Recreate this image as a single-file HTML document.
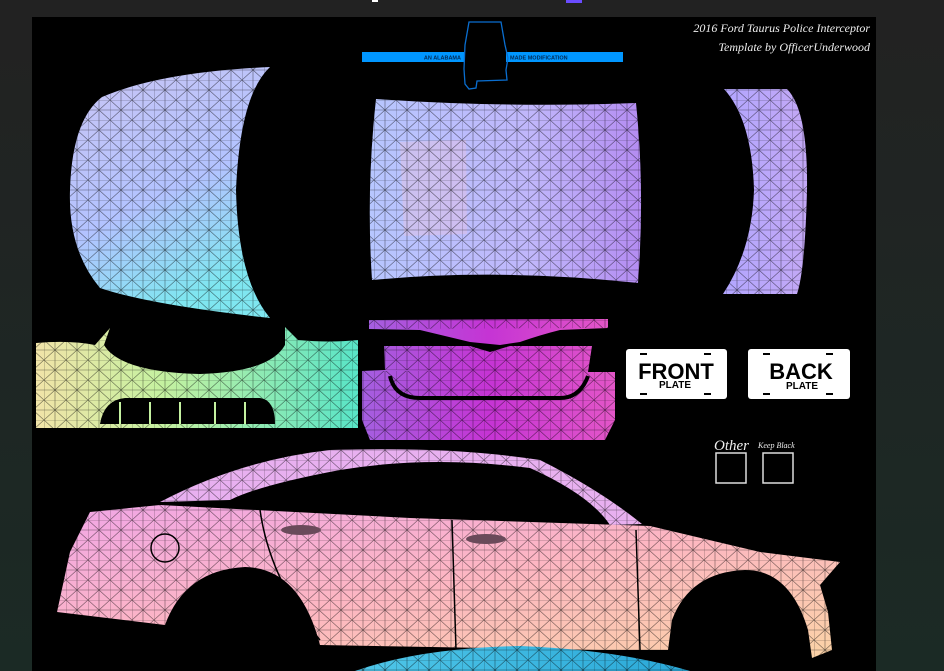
<!DOCTYPE html>
<html><head><meta charset="utf-8"><style>
html,body{margin:0;padding:0;width:944px;height:671px;overflow:hidden;background:#222}
svg{display:block}
</style></head><body>
<svg width="944" height="671" viewBox="0 0 944 671" xmlns="http://www.w3.org/2000/svg">
<defs>
<pattern id="mesh" width="22" height="20" patternUnits="userSpaceOnUse">
<path d="M0 0H22M0 10H22M0 0V20M11 0V20M0 0L11 10L0 20M11 10L22 0M11 10L22 20" stroke="#000" stroke-width="0.6" fill="none" opacity="0.55"/>
</pattern>
<linearGradient id="gHood" x1="0" y1="0" x2="0.4" y2="1"><stop offset="0" stop-color="#c9c4f4"/><stop offset="0.6" stop-color="#b3c3ff"/><stop offset="1" stop-color="#7fe6f0"/></linearGradient>
<linearGradient id="gRoof" x1="0" y1="0" x2="1" y2="0"><stop offset="0" stop-color="#b7c6ff"/><stop offset="0.6" stop-color="#c0b6fb"/><stop offset="1" stop-color="#b48cf2"/></linearGradient>
<linearGradient id="gTrunk" x1="0" y1="0" x2="1" y2="0"><stop offset="0" stop-color="#b2a6ff"/><stop offset="1" stop-color="#c3a8f5"/></linearGradient>
<linearGradient id="gFB" x1="0" y1="0" x2="1" y2="0"><stop offset="0" stop-color="#f1e4a8"/><stop offset="0.4" stop-color="#c4f1a0"/><stop offset="1" stop-color="#58e4c7"/></linearGradient>
<linearGradient id="gRB" x1="0" y1="0" x2="1" y2="0"><stop offset="0" stop-color="#a45fe0"/><stop offset="0.5" stop-color="#c534d4"/><stop offset="1" stop-color="#e356c8"/></linearGradient>
<linearGradient id="gSide" x1="0" y1="0" x2="1" y2="1"><stop offset="0" stop-color="#f1a6e6"/><stop offset="0.5" stop-color="#fdb6c2"/><stop offset="1" stop-color="#fbd3a6"/></linearGradient>
<linearGradient id="gRight" x1="0" y1="0" x2="0" y2="1"><stop offset="0" stop-color="#222"/><stop offset="1" stop-color="#1b2a25"/></linearGradient>
<linearGradient id="gCyan" x1="0" y1="0" x2="1" y2="0"><stop offset="0" stop-color="#4fc6e8"/><stop offset="1" stop-color="#2aa8d8"/></linearGradient>
</defs>
<rect width="944" height="671" fill="#222"/>
<rect x="876" y="0" width="68" height="671" fill="url(#gRight)"/>
<rect x="0" y="17" width="32" height="654" fill="url(#gRight)"/>
<rect x="32" y="17" width="844" height="654" fill="#000"/>
<rect x="566" y="0" width="16" height="3" fill="#6a4cff"/>
<rect x="372" y="0" width="6" height="2" fill="#fff"/>

<!-- header bar -->
<rect x="362" y="52" width="102" height="10" fill="#0096ff"/>
<rect x="506" y="52" width="117" height="10" fill="#0096ff"/>
<text x="461" y="59.5" font-family="Liberation Sans,sans-serif" font-size="5.5" font-weight="bold" text-anchor="end" fill="#002a55">AN ALABAMA</text>
<text x="510" y="59.5" font-family="Liberation Sans,sans-serif" font-size="5.5" font-weight="bold" fill="#002a55">MADE MODIFICATION</text>
<path d="M469 22 L501 22 L505 45 L508 58 L506 70 L507 80 L477 81 L476 88 L469 89 L465 84 L464 69 L465 45 Z" fill="none" stroke="#0a6ed0" stroke-width="1.3"/>

<text x="870" y="32" font-family="Liberation Serif,serif" font-style="italic" font-size="12" text-anchor="end" fill="#eee">2016 Ford Taurus Police Interceptor</text>
<text x="870" y="51" font-family="Liberation Serif,serif" font-style="italic" font-size="12" text-anchor="end" fill="#eee">Template by OfficerUnderwood</text>

<!-- hood -->
<path d="M102 97 Q160 72 270 67 Q240 95 236 190 Q238 280 270 318 Q150 305 100 288 Q68 250 70 190 Q72 120 102 97 Z" fill="url(#gHood)"/>
<path d="M102 97 Q160 72 270 67 Q240 95 236 190 Q238 280 270 318 Q150 305 100 288 Q68 250 70 190 Q72 120 102 97 Z" fill="url(#mesh)"/>
<!-- roof -->
<path d="M376 99 Q510 108 636 103 Q645 190 638 283 Q500 268 372 280 Q366 190 376 99 Z" fill="url(#gRoof)"/>
<path d="M400 142 L466 140 L467 234 L404 236 Z" fill="#f0c0d8" opacity="0.35"/>
<path d="M376 99 Q510 108 636 103 Q645 190 638 283 Q500 268 372 280 Q366 190 376 99 Z" fill="url(#mesh)"/>
<!-- trunk -->
<path d="M724 89 L787 89 Q808 110 807 190 Q805 270 797 294 L723 294 Q752 250 754 190 Q752 120 724 89 Z" fill="url(#gTrunk)"/>
<path d="M724 89 L787 89 Q808 110 807 190 Q805 270 797 294 L723 294 Q752 250 754 190 Q752 120 724 89 Z" fill="url(#mesh)"/>
<!-- front bumper -->
<path d="M36 343 Q70 340 95 345 L110 328 L104 345 Q120 372 200 374 Q270 372 285 345 L285 327 L298 340 Q330 343 358 340 L358 428 L36 428 Z" fill="url(#gFB)"/>
<path d="M36 343 Q70 340 95 345 L110 328 L104 345 Q120 372 200 374 Q270 372 285 345 L285 327 L298 340 Q330 343 358 340 L358 428 L36 428 Z" fill="url(#mesh)"/>
<path d="M100 424 Q104 400 125 398 L260 398 Q275 400 275 424 Z" fill="#000"/>
<path d="M120 402 V424 M150 402 V424 M180 402 V424 M215 402 V424 M245 402 V424" stroke="#c4f1a0" stroke-width="2"/>
<!-- rear bumper -->
<path d="M369 320 L608 319 L608 328 L560 330 Q540 335 520 342 L500 345 L470 342 L420 330 L369 329 Z" fill="url(#gRB)"/>
<path d="M384 346 L470 346 L490 352 L510 346 L592 346 L588 372 L615 372 L615 420 L605 440 L370 440 L362 420 L362 371 L385 370 Z" fill="url(#gRB)"/>
<path d="M369 320 L608 319 L608 328 L369 329 Z M362 371 L615 371 L615 440 L362 440 Z M384 346 L592 346 L588 372 L385 370 Z" fill="url(#mesh)"/>
<path d="M390 376 Q395 398 420 398 L560 398 Q580 398 588 376" fill="none" stroke="#000" stroke-width="4"/>
<!-- plates -->
<rect x="626" y="349" width="101" height="50" rx="3" fill="#fff"/>
<text x="676" y="379" font-family="Liberation Sans,sans-serif" font-weight="bold" font-size="22" text-anchor="middle">FRONT</text>
<text x="675" y="388" font-family="Liberation Sans,sans-serif" font-weight="bold" font-size="10" text-anchor="middle">PLATE</text>
<rect x="748" y="349" width="102" height="50" rx="3" fill="#fff"/>
<text x="801" y="379" font-family="Liberation Sans,sans-serif" font-weight="bold" font-size="22" text-anchor="middle">BACK</text>
<text x="802" y="389" font-family="Liberation Sans,sans-serif" font-weight="bold" font-size="10" text-anchor="middle">PLATE</text>
<g fill="#000"><rect x="640" y="353" width="7" height="2"/><rect x="704" y="353" width="7" height="2"/><rect x="640" y="393" width="7" height="2"/><rect x="704" y="393" width="7" height="2"/>
<rect x="763" y="353" width="7" height="2"/><rect x="826" y="353" width="7" height="2"/><rect x="763" y="393" width="7" height="2"/><rect x="826" y="393" width="7" height="2"/></g>
<text x="714" y="450" font-family="Liberation Serif,serif" font-style="italic" font-size="15" fill="#eee">Other</text>
<text x="758" y="448" font-family="Liberation Serif,serif" font-style="italic" font-size="8" fill="#eee">Keep Black</text>
<rect x="716" y="453" width="30" height="30" fill="none" stroke="#ddd" stroke-width="1.5"/>
<rect x="763" y="453" width="30" height="30" fill="none" stroke="#ddd" stroke-width="1.5"/>
<!-- side -->
<path d="M160 502 Q240 460 330 450 Q450 446 540 460 Q600 490 642 524 L610 525 Q590 495 530 468 Q430 455 340 470 Q260 485 230 500 Z" fill="#e8b0f0"/>
<path d="M90 512 L160 505 L410 518 L650 526 L760 552 L840 562 L820 585 L828 612 L832 650 L812 658 L808 630 Q790 570 745 570 Q690 572 672 620 L668 650 L600 650 L320 645 Q300 568 245 567 Q185 570 165 625 L57 612 L70 552 Z" fill="url(#gSide)"/>
<path d="M90 512 L160 505 L410 518 L650 526 L760 552 L840 562 L820 585 L828 612 L832 650 L812 658 L808 630 Q790 570 745 570 Q690 572 672 620 L668 650 L600 650 L320 645 Q300 568 245 567 Q185 570 165 625 L57 612 L70 552 Z" fill="url(#mesh)"/>
<path d="M160 502 Q240 460 330 450 Q450 446 540 460 Q600 490 642 524 L610 525 Q590 495 530 468 Q430 455 340 470 Q260 485 230 500 Z" fill="url(#mesh)"/>
<ellipse cx="165" cy="548" rx="14" ry="14" fill="none" stroke="#000" stroke-width="1.5"/>
<path d="M260 510 Q270 580 320 640 M452 520 L456 650 M636 530 L640 650" stroke="#000" stroke-width="1.5" fill="none"/>
<ellipse cx="301" cy="530" rx="20" ry="5" fill="#6a4a5a"/>
<ellipse cx="486" cy="539" rx="20" ry="5" fill="#6a4a5a"/>
<!-- bottom cyan -->
<path d="M355 671 Q420 648 520 646 Q620 650 690 671 Z" fill="url(#gCyan)"/>
<path d="M355 671 Q420 648 520 646 Q620 650 690 671 Z" fill="url(#mesh)"/>
</svg>
</body></html>
